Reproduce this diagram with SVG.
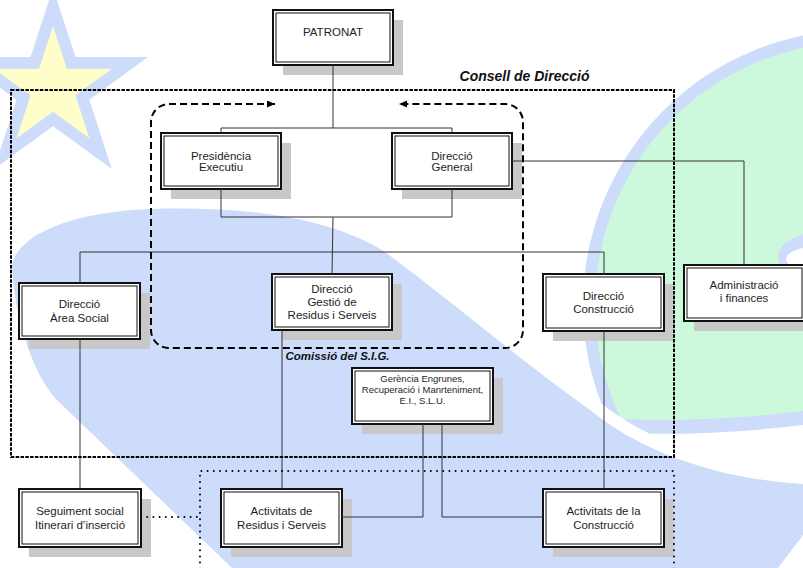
<svg xmlns="http://www.w3.org/2000/svg" width="803" height="568" viewBox="0 0 803 568">
<style>
.sh{fill:#c8c8c8}
.bx{fill:#fff;stroke:#111;stroke-width:2}
.in{fill:none;stroke:#111;stroke-width:1}
.t{font-family:"Liberation Sans",Arial,sans-serif;font-size:11.5px;fill:#1e1e1e;text-anchor:middle}
.ts{font-size:9.5px}
.cn{fill:none;stroke:#333;stroke-width:1}
.lbl{font-family:"Liberation Sans",Arial,sans-serif;font-weight:bold;font-style:italic;fill:#111;text-anchor:middle}
</style>
<defs>
<clipPath id="c2"><path d="M560,0 H810 V424 Q690,440 560,430 Z"/></clipPath>
<clipPath id="c3"><path d="M560,0 H810 V424 Q690,440 560,430 Z" transform="translate(0,-14)"/></clipPath>
<marker id="ah" markerWidth="9" markerHeight="8" refX="8" refY="3.5" orient="auto-start-reverse" markerUnits="userSpaceOnUse">
<path d="M0,0 L8,3.5 L0,7 Z" fill="#000"/>
</marker>
</defs>
<rect width="803" height="568" fill="#fff"/>
<g id="background">
<circle cx="858" cy="305" r="275" fill="#ccdcfa" clip-path="url(#c2)"/>
<circle cx="858" cy="305" r="263" fill="#ccf8dc" clip-path="url(#c3)"/>
<ellipse cx="822" cy="257" rx="44" ry="25" fill="#ccdcfa"/>
<ellipse cx="822" cy="259" rx="36" ry="13" fill="#fff"/>
<path d="M12,265 C18,235 70,212 150,209 C250,206 330,218 385,252 C450,300 520,360 590,410 C640,450 710,478 803,484 L803,535 L778,568 L232,568 L60,403 C35,380 14,320 12,265 Z" fill="#ccdcfa" stroke="#fff" stroke-width="24"/>
<path d="M12,265 C18,235 70,212 150,209 C250,206 330,218 385,252 C450,300 520,360 590,410 C640,450 710,478 803,484 L803,535 L778,568 L232,568 L60,403 C35,380 14,320 12,265 Z" fill="#ccdcfa"/>
<polygon points="53,-12 75.5,57.1 148.1,57.1 89.3,99.8 111.8,168.9 53,126.2 -5.8,168.9 16.7,99.8 -42.1,57.1 30.5,57.1" fill="#ccdcfa"/>
<polygon points="53,26 66.9,68.8 112,68.8 75.5,95.3 89.4,138.2 53,111.7 16.6,138.2 30.5,95.3 -6,68.8 39.1,68.8" fill="#fffdca"/>
</g>
<g id="n-patronat">
<rect class="sh" x="283" y="20" width="120" height="55"/>
<rect class="bx" x="273" y="10" width="120" height="55"/>
<rect class="in" x="276" y="13" width="114" height="49"/>
<text class="t" x="333" y="36">PATRONAT</text>
</g>
<g id="n-presidencia">
<rect class="sh" x="171" y="143" width="120" height="56"/>
<rect class="bx" x="161" y="133" width="120" height="56"/>
<rect class="in" x="164" y="136" width="114" height="50"/>
<text class="t" x="221" y="159.5">Presidència</text>
<text class="t" x="221" y="171">Executiu</text>
</g>
<g id="n-direccio-general">
<rect class="sh" x="402" y="143" width="120" height="56"/>
<rect class="bx" x="392" y="133" width="120" height="56"/>
<rect class="in" x="395" y="136" width="114" height="50"/>
<text class="t" x="452" y="159.5">Direcció</text>
<text class="t" x="452" y="171">General</text>
</g>
<g id="n-area-social">
<rect class="sh" x="29" y="293" width="121" height="56"/>
<rect class="bx" x="19" y="283" width="121" height="56"/>
<rect class="in" x="22" y="286" width="115" height="50"/>
<text class="t" x="79.5" y="308">Direcció</text>
<text class="t" x="79.5" y="322">Àrea Social</text>
</g>
<g id="n-gestio">
<rect class="sh" x="282" y="284" width="120" height="56"/>
<rect class="bx" x="272" y="274" width="120" height="56"/>
<rect class="in" x="275" y="277" width="114" height="50"/>
<text class="t" x="332" y="292.5">Direcció</text>
<text class="t" x="332" y="306">Gestió de</text>
<text class="t" x="332" y="319">Residus i Serveis</text>
</g>
<g id="n-construccio">
<rect class="sh" x="553" y="284" width="121" height="57"/>
<rect class="bx" x="543" y="274" width="121" height="57"/>
<rect class="in" x="546" y="277" width="115" height="51"/>
<text class="t" x="603.5" y="300">Direcció</text>
<text class="t" x="603.5" y="313">Construcció</text>
</g>
<g id="n-administracio">
<rect class="sh" x="694" y="275" width="121" height="56"/>
<rect class="bx" x="684" y="265" width="121" height="56"/>
<rect class="in" x="687" y="268" width="115" height="50"/>
<text class="t" x="744" y="289">Administració</text>
<text class="t" x="744" y="302">i finances</text>
</g>
<g id="n-gerencia">
<rect class="sh" x="362" y="378" width="141" height="56"/>
<rect class="bx" x="352" y="368" width="141" height="56"/>
<rect class="in" x="355" y="371" width="135" height="50"/>
<text class="t ts" x="422.5" y="381.5">Gerència Engrunes,</text>
<text class="t ts" x="422.5" y="392.5">Recuperació i Manrteniment,</text>
<text class="t ts" x="422.5" y="403.5">E.I., S.L.U.</text>
</g>
<g id="n-seguiment">
<rect class="sh" x="29" y="499" width="122" height="58"/>
<rect class="bx" x="19" y="489" width="122" height="58"/>
<rect class="in" x="22" y="492" width="116" height="52"/>
<text class="t" x="80" y="515">Seguiment social</text>
<text class="t" x="80" y="529">Itinerari d’inserció</text>
</g>
<g id="n-act-residus">
<rect class="sh" x="231" y="499" width="121" height="58"/>
<rect class="bx" x="221" y="489" width="121" height="58"/>
<rect class="in" x="224" y="492" width="115" height="52"/>
<text class="t" x="281.5" y="515">Activitats de</text>
<text class="t" x="281.5" y="529">Residus i Serveis</text>
</g>
<g id="n-act-construccio">
<rect class="sh" x="553" y="499" width="121" height="58"/>
<rect class="bx" x="543" y="489" width="121" height="58"/>
<rect class="in" x="546" y="492" width="115" height="52"/>
<text class="t" x="603.5" y="515">Activitats de la</text>
<text class="t" x="603.5" y="529">Construcció</text>
</g>
<g id="connectors">
<path class="cn" d="M333,65 V128"/>
<path class="cn" d="M221,133 V128 H452 V133"/>
<path class="cn" d="M221,189 V217 H452 V189"/>
<path class="cn" d="M333,217 L332,274"/>
<path class="cn" d="M80,283 V252 H604 V274"/>
<path class="cn" d="M512,161 H744 V265"/>
<path class="cn" d="M80,339 V489"/>
<path class="cn" d="M282,330 V489"/>
<path class="cn" d="M604,331 V489"/>
<path class="cn" d="M423,424 V517 H342"/>
<path class="cn" d="M442,424 V517 H543"/>
<path d="M141,517 H200" fill="none" stroke="#000" stroke-width="2" stroke-linecap="round" stroke-dasharray="0 6.2"/>
</g>
<g id="groups">
<rect x="11" y="90" width="663" height="367" fill="none" stroke="#000" stroke-width="2" stroke-dasharray="3.5 1.3"/>
<path d="M275,104 H169 A18,18 0 0 0 151,122 V330 A18,18 0 0 0 169,348 H505 A18,18 0 0 0 523,330 V122 A18,18 0 0 0 505,104 H399" fill="none" stroke="#000" stroke-width="2" stroke-dasharray="7 4" marker-start="url(#ah)" marker-end="url(#ah)"/>
<path d="M200,575 V471 H674 V575" fill="none" stroke="#000" stroke-width="2" stroke-linecap="round" stroke-dasharray="0 6.2"/>
<text class="lbl" x="524.5" y="81" font-size="14">Consell de Direcció</text>
<text class="lbl" x="337.5" y="359.5" font-size="11.5">Comissió del S.I.G.</text>
</g>
</svg>
